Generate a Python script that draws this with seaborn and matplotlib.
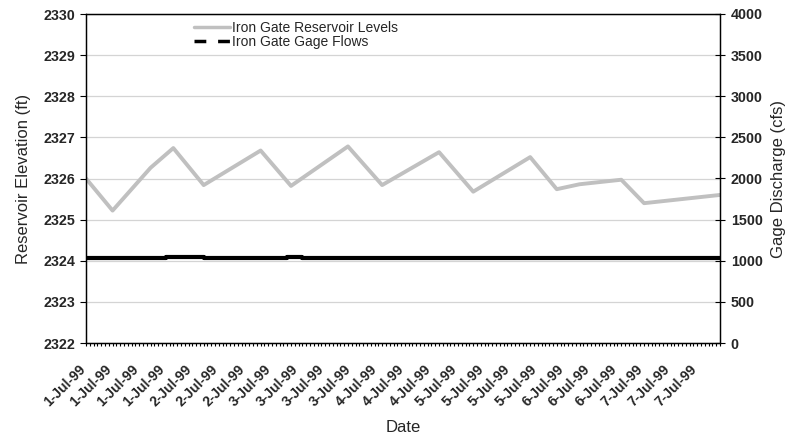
import matplotlib
matplotlib.use("Agg")
import matplotlib.pyplot as plt
import matplotlib.transforms as mtransforms
from matplotlib.lines import Line2D
import seaborn as sns
import pandas as pd

# Reservoir level vertices (hour since 1-Jul-99 00:00, elevation in ft)
level_hours = [0, 7, 17, 23, 31, 46, 54, 69, 78, 93, 102, 117, 124, 130, 141, 147, 167]
level_ft = [2326.00, 2325.22, 2326.26, 2326.74, 2325.84, 2326.68, 2325.82, 2326.78,
            2325.84, 2326.64, 2325.68, 2326.52, 2325.74, 2325.86, 2325.97, 2325.40, 2325.60]

# Gage flow vertices (hour, cfs)
flow_hours = [0, 21, 21, 31, 31, 53, 53, 57, 57, 167]
flow_cfs = [1038, 1038, 1050, 1050, 1038, 1038, 1046, 1046, 1038, 1038]

# Date labels shown every 7 hours
date_labels = ["1-Jul-99", "1-Jul-99", "1-Jul-99", "1-Jul-99",
               "2-Jul-99", "2-Jul-99", "2-Jul-99",
               "3-Jul-99", "3-Jul-99", "3-Jul-99", "3-Jul-99",
               "4-Jul-99", "4-Jul-99", "4-Jul-99",
               "5-Jul-99", "5-Jul-99", "5-Jul-99", "5-Jul-99",
               "6-Jul-99", "6-Jul-99", "6-Jul-99",
               "7-Jul-99", "7-Jul-99", "7-Jul-99"]

levels = pd.DataFrame({"hour": level_hours, "elev": level_ft})
flows = pd.DataFrame({"hour": flow_hours, "cfs": flow_cfs})

sns.set_style("ticks")
plt.rcParams["font.family"] = ["Liberation Sans", "DejaVu Sans"]

fig = plt.figure(figsize=(8.02, 4.36), dpi=100)
ax = fig.add_axes([86 / 802, 1 - 343 / 436, 634 / 802, 329 / 436])
ax2 = ax.twinx()

ax.yaxis.grid(True, color="#d4d4d4", lw=0.9)
ax.set_axisbelow(True)

sns.lineplot(data=levels, x="hour", y="elev", ax=ax, color="#c0c0c0", lw=2.8,
             estimator=None, sort=False)
sns.lineplot(data=flows, x="hour", y="cfs", ax=ax2, color="black", lw=3.0,
             estimator=None, sort=False)

ax.set_xlim(0, 167)
ax.set_ylim(2322, 2330)
ax2.set_ylim(0, 4000)

ax.set_xticks(range(0, 168, 7))
ax.set_xticks(range(0, 168), minor=True)
ax.set_xticklabels(date_labels, rotation=45, ha="right", va="center",
                   rotation_mode="anchor", fontsize=10, fontweight="bold")
ax.tick_params(axis="x", which="both", length=2.5, width=0.8, direction="out", pad=15,
               color="black")
# nudge the rotated date labels a little to the left
shift = mtransforms.ScaledTranslation(-3 / 100, 0, fig.dpi_scale_trans)
for t in ax.get_xticklabels():
    t.set_transform(t.get_transform() + shift)

ax.set_yticks(range(2322, 2331))
ax.tick_params(axis="y", length=4.5, width=0.8, direction="out", pad=3,
               labelsize=10.3, color="black")
for t in ax.get_yticklabels():
    t.set_fontweight("bold")

ax2.set_yticks(range(0, 4001, 500))
ax2.tick_params(axis="y", length=7.5, width=0.8, direction="inout", pad=4,
                labelsize=10.3, color="black")
for t in ax2.get_yticklabels():
    t.set_fontweight("bold")

for a in (ax, ax2):
    for s in a.spines.values():
        s.set_visible(True)
        s.set_color("black")
        s.set_linewidth(0.9)

ax.set_xlabel("Date", fontsize=12, labelpad=8)
ax.set_ylabel("Reservoir Elevation (ft)", fontsize=12, labelpad=9)
ax2.set_ylabel("Gage Discharge (cfs)", fontsize=12, labelpad=6)

handles = [
    Line2D([], [], color="#c0c0c0", lw=2.5),
    Line2D([], [], color="black", lw=2.5, linestyle=(0, (3.4, 3.4))),
]
labels = ["Iron Gate Reservoir Levels", "Iron Gate Gage Flows"]
leg = ax2.legend(handles, labels, loc="upper left",
                 bbox_to_anchor=(194 / 802, 1 - 21 / 436),
                 bbox_transform=fig.transFigure, frameon=False, fontsize=10,
                 borderpad=0, borderaxespad=0, handlelength=2.6,
                 handletextpad=0.15, labelspacing=0.0)

fig.savefig("out.png", dpi=100)
